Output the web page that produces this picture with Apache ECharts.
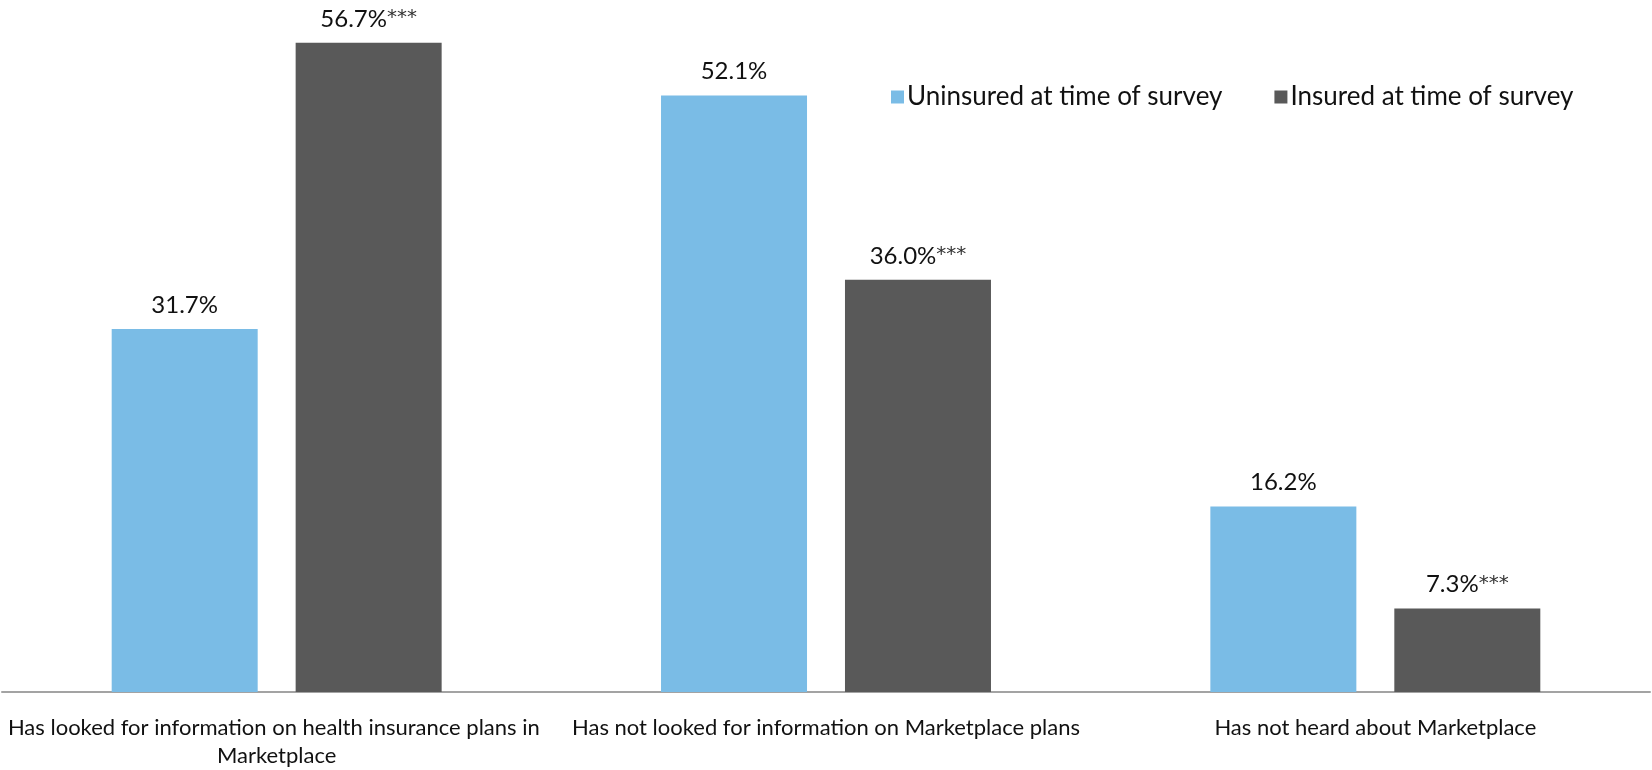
<!DOCTYPE html>
<html>
<head>
<meta charset="utf-8">
<title>Marketplace awareness by insurance status</title>
<script src="https://cdn.jsdelivr.net/npm/echarts@6/dist/echarts.min.js"></script>
<style>
  html, body { margin: 0; padding: 0; background: #ffffff; }
  #chart { width: 1652px; height: 770px; }
</style>
</head>
<body>
<div id="chart"></div>
<script>
// Categories along the x axis
const categories = [
  'Has looked for information on health insurance plans in Marketplace',
  'Has not looked for information on Marketplace plans',
  'Has not heard about Marketplace'
];

// Series names
const seriesNames = ['Uninsured at time of survey', 'Insured at time of survey'];

// Percentages for each group
const uninsuredValues = [31.7, 52.1, 16.2];
const insuredValues = [56.7, 36.0, 7.3];

// Significance markers shown after each insured value
const insuredSignificance = ['***', '***', '***'];

const FONT = 'Lato, "Open Sans", sans-serif';
const COLOR_BLUE = '#7abce6';
const COLOR_GRAY = '#595959';

const chart = echarts.init(document.getElementById('chart'), null, { renderer: 'canvas' });

function valueLabel(markers) {
  return {
    show: true,
    position: 'top',
    distance: 12,
    fontFamily: FONT,
    fontSize: 24,
    color: '#111111',
    formatter: function (p) {
      const m = markers ? markers[p.dataIndex] : '';
      return p.value.toFixed(1) + '%' + (m ? '{s|' + m + '}' : '');
    },
    rich: {
      s: { fontFamily: '"DejaVu Sans", sans-serif', fontSize: 20, color: '#333333', padding: [0, 0, 2, 0] }
    }
  };
}

chart.setOption({
  animation: false,
  backgroundColor: '#ffffff',
  grid: { left: 2, right: 0, top: 5, bottom: 69, containLabel: false },
  legend: {
    data: seriesNames,
    left: 886,
    top: 79,
    icon: 'rect',
    itemWidth: 13,
    itemHeight: 13,
    itemGap: 52,
    textStyle: { fontFamily: FONT, fontSize: 26, color: '#111111', padding: [0, 0, 0, -2] }
  },
  xAxis: {
    type: 'category',
    data: categories,
    axisLine: { show: true, lineStyle: { color: '#a3a3a3', width: 2 } },
    axisTick: { show: false },
    axisLabel: {
      interval: 0,
      margin: 22,
      fontFamily: FONT,
      fontSize: 22,
      lineHeight: 28,
      color: '#111111',
      width: 548,
      overflow: 'break'
    }
  },
  yAxis: {
    type: 'value',
    min: 0,
    max: 60,
    show: false,
    splitLine: { show: false }
  },
  series: [
    {
      name: seriesNames[0],
      type: 'bar',
      data: uninsuredValues,
      barWidth: 146,
      barGap: '26%',
      itemStyle: { color: COLOR_BLUE },
      label: valueLabel(null)
    },
    {
      name: seriesNames[1],
      type: 'bar',
      data: insuredValues,
      barWidth: 146,
      barGap: '26%',
      itemStyle: { color: COLOR_GRAY },
      label: valueLabel(insuredSignificance)
    }
  ]
});
</script>
</body>
</html>
